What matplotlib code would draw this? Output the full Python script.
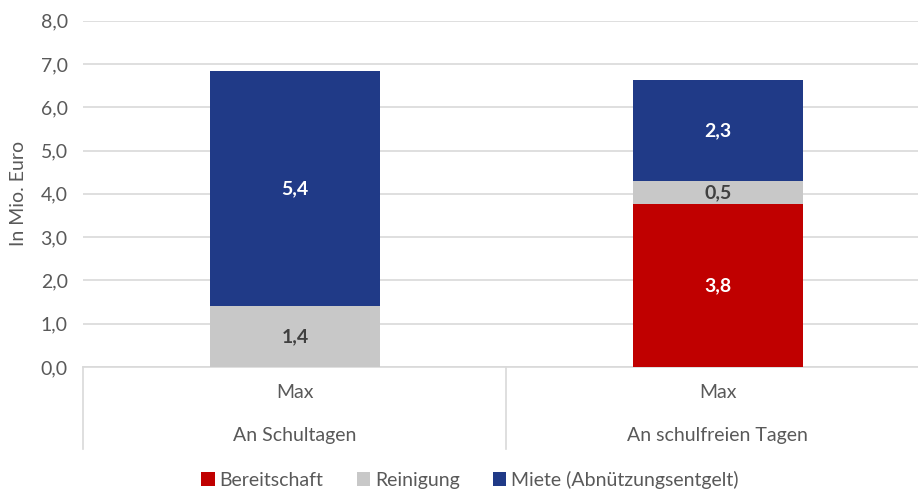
import matplotlib
matplotlib.use("Agg")
import matplotlib.pyplot as plt
from matplotlib.transforms import blended_transform_factory
from matplotlib.patches import Patch
import numpy as np

plt.rcParams['font.family'] = ['Lato', 'DejaVu Sans']

groups = ["An Schultagen", "An schulfreien Tagen"]
sub_labels = ["Max", "Max"]
series_names = ["Bereitschaft", "Reinigung", "Miete (Abnützungsentgelt)"]
bereitschaft = [0.0, 3.76]
reinigung = [1.42, 0.53]
miete = [5.41, 2.33]
colors = ["#c00000", "#c8c8c8", "#203a87"]
label_colors = ["white", "#404040", "white"]
yticks = [0, 1, 2, 3, 4, 5, 6, 7, 8]

FS = 14
fig = plt.figure(figsize=(9.18, 4.91), dpi=100)
ax = fig.add_axes([83/918, 1-367/491, 1-83/918, (367-20.7)/491])

x = np.arange(len(groups))
w = 0.40
bottom = np.zeros(len(groups))
series = [bereitschaft, reinigung, miete]
for vals, col, lc in zip(series, colors, label_colors):
    vals = np.array(vals)
    ax.bar(x, vals, w, bottom=bottom, color=col, zorder=3)
    for xi, v, b in zip(x, vals, bottom):
        if v > 0:
            ax.text(xi, b + v/2, f"{v:.1f}".replace(".", ","), ha="center", va="center",
                    color=lc, fontsize=FS, fontweight="bold", zorder=4)
    bottom += vals

ax.set_ylim(0, 8)
ax.set_xlim(-0.501, 1.473)
ax.set_yticks(yticks)
ax.set_yticklabels([f"{t:.1f}".replace(".", ",") for t in yticks], fontsize=FS, color="#595959")
ax.yaxis.grid(True, color="#d9d9d9", linewidth=1.2, zorder=0)
ax.tick_params(axis="y", length=0, pad=11)
ax.tick_params(axis="x", length=0, labelbottom=False)
for s in ["top", "right", "left"]:
    ax.spines[s].set_visible(False)
ax.spines["bottom"].set_color("#d9d9d9")
ax.spines["bottom"].set_linewidth(1.2)
ax.set_ylabel("In Mio. Euro", fontsize=FS, color="#595959")
ax.yaxis.set_label_coords((27-83)/835, 0.5)

tr = blended_transform_factory(ax.transData, fig.transFigure)
for xi, g, s in zip(x, groups, sub_labels):
    ax.text(xi, 1-393/491, s, transform=tr, ha="center", va="center", fontsize=FS, color="#595959")
    ax.text(xi, 1-436/491, g, transform=tr, ha="center", va="center", fontsize=FS, color="#595959")
for xb in [-0.5, 0.5]:
    ax.plot([xb, xb], [1-367/491, 1-449/491], transform=tr, color="#d9d9d9", lw=1.2, clip_on=False)

handles = [Patch(facecolor=c, label=n) for c, n in zip(colors, series_names)]
fig.legend(handles=handles, loc="center", bbox_to_anchor=(470/918, 1-480/491), ncol=3,
           frameon=False, fontsize=FS, handlelength=0.7, handleheight=0.7,
           handletextpad=0.25, columnspacing=1.7, labelcolor="#595959")

fig.savefig("out.png", dpi=100)
